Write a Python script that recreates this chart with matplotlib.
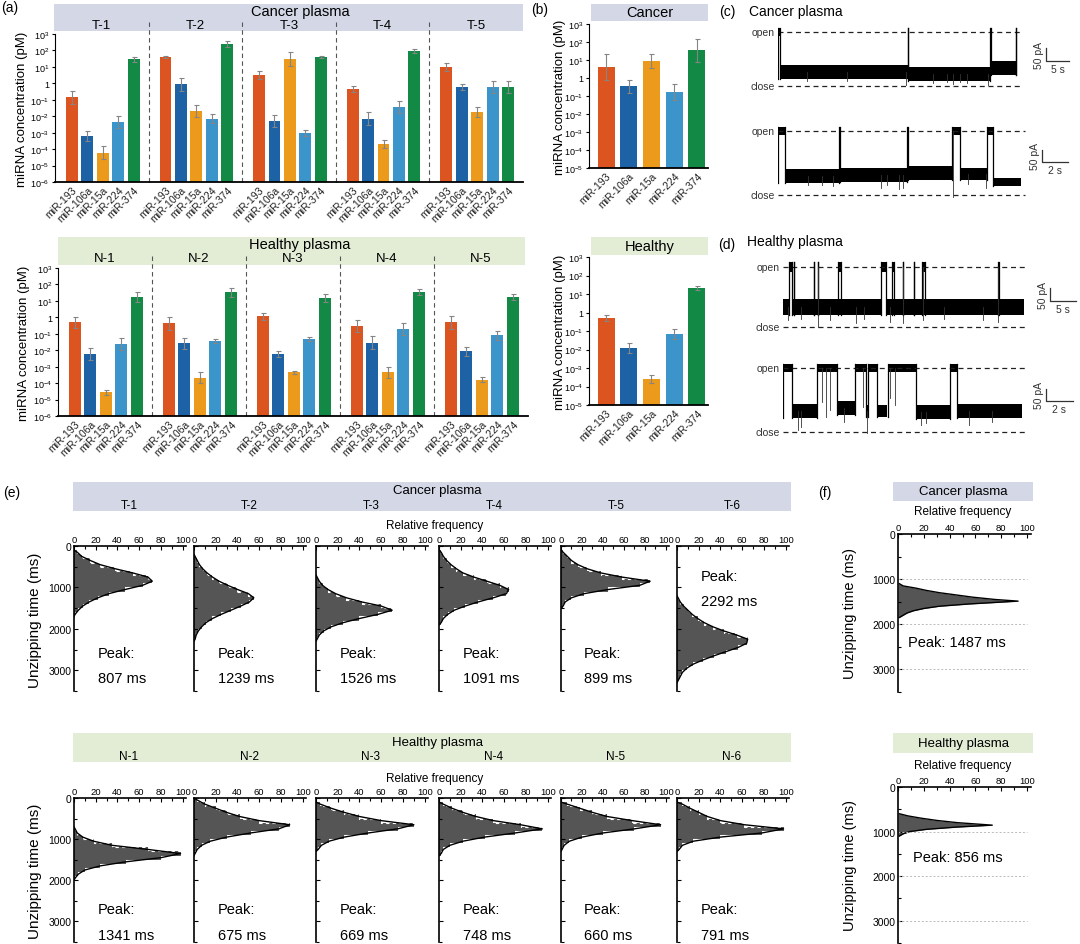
import numpy as np
import matplotlib.pyplot as plt
from matplotlib.patches import Rectangle
from matplotlib.ticker import MultipleLocator

plt.rcParams['font.family'] = ['Liberation Sans', 'DejaVu Sans']
plt.rcParams['mathtext.fontset'] = 'custom'
plt.rcParams['mathtext.rm'] = 'Liberation Sans'
plt.rcParams['mathtext.it'] = 'Liberation Sans:italic'

# ---------------- data ----------------
mirnas = ['miR-193', 'miR-106a', 'miR-15a', 'miR-224', 'miR-374']
bar_colors = ['#DC5520', '#1D62A5', '#EB9A1B', '#3B94CA', '#128A45']

cancer_ids = ['T-1', 'T-2', 'T-3', 'T-4', 'T-5']
cancer_conc = [[0.14, 6.2e-4, 6.2e-5, 4.5e-3, 29],
               [39, 0.87, 0.02, 7.2e-3, 250],
               [3.3, 5.1e-3, 29, 9.5e-4, 40],
               [0.45, 7.2e-3, 2e-4, 0.037, 90],
               [10, 0.6, 0.018, 0.6, 0.6]]
cancer_err = [[0.34, 1.3e-3, 1.5e-4, 0.01, 41],
              [43, 2.2, 0.047, 0.014, 370],
              [5.6, 0.012, 78, 1.5e-3, 44],
              [0.7, 0.018, 3.5e-4, 0.09, 115],
              [18, 0.9, 0.034, 1.4, 1.3]]

healthy_ids = ['N-1', 'N-2', 'N-3', 'N-4', 'N-5']
healthy_conc = [[0.49, 6.1e-3, 2.8e-5, 0.025, 17],
                [0.43, 0.026, 2.1e-4, 0.036, 33],
                [1.15, 6e-3, 4.5e-4, 0.046, 14.5],
                [0.3, 0.029, 4.5e-4, 0.19, 36],
                [0.5, 8.7e-3, 1.6e-4, 0.08, 17]]
healthy_err = [[1.0, 0.014, 4e-5, 0.058, 33],
               [1.1, 0.058, 4.5e-4, 0.045, 63],
               [1.8, 9e-3, 5.5e-4, 0.06, 26],
               [0.7, 0.07, 1e-3, 0.45, 55],
               [1.2, 0.016, 2.3e-4, 0.15, 25]]

pooled_cancer_conc = [4.0, 0.34, 9.0, 0.17, 34]
pooled_cancer_err = [21, 0.74, 22, 0.46, 150]
pooled_healthy_conc = [0.5, 0.012, 2.5e-4, 0.07, 22]
pooled_healthy_err = [0.75, 0.022, 4.3e-4, 0.13, 28]

# current traces: band segments (s), open bursts (s), short dips (s, pA)
c1_open = 210
c1_band_start = [0.4, 28.2, 46.1]
c1_band_end = [28.2, 46.1, 51.9]
c1_band_level = [55, 46, 70]
c1_band_noise = [26, 26, 26]
c1_bursts = [(0, 0.4), (28.2, 28.3), (46.1, 46.2), (51.7, 51.8)]
c1_dip_t = [6.2, 14.9, 27.9, 33.8, 36.7, 38.1, 39.6, 41.0, 45.7]
c1_dip_low = [20, 20, 5, 10, 15, 8, 15, 10, 5]

c2_open = 260
c2_band_start = [0.6, 4.75, 10.0, 14.0, 16.5]
c2_band_end = [4.68, 9.95, 13.4, 16.1, 18.7]
c2_band_level = [77, 80, 89, 85, 53]
c2_band_noise = [28, 28, 28, 26, 16]
c2_bursts = [(0, 0.55), (4.68, 4.75), (9.95, 10.0), (13.4, 14.0), (16.1, 16.5)]
c2_dip_t = [2.3, 3.4, 4.2, 7.9, 8.4, 9.3, 9.6, 13.45, 14.6, 16.0]
c2_dip_low = [40, 40, 35, 30, 40, 25, 30, -10, 45, 30]

d1_open = 230
d1_band_start = [0, 1.7, 19.9]
d1_band_end = [1.2, 18.9, 46.4]
d1_band_level = [77, 77, 77]
d1_band_noise = [32, 32, 32]
d1_bursts = [(1.2, 1.7), (2.1, 2.15), (5.9, 5.95), (6.7, 6.75), (10.6, 11.1), (18.9, 19.9),
             (20.9, 21.3), (23.1, 23.15), (25.1, 25.15), (26.7, 27.3), (41.4, 41.45)]
d1_dip_t = [0.9, 3.5, 6.7, 9.0, 14.0, 15.5, 20.5, 23.1, 27.0, 31.0, 38.5, 41.4]
d1_dip_low = [25, 30, 0, 25, 15, 30, 20, 15, 25, 30, 25, 20]

d2_open = 260
d2_band_start = [0.64, 3.97, 6.15, 6.94, 9.85, 12.86]
d2_band_end = [2.54, 5.33, 6.32, 7.68, 12.37, 17.7]
d2_band_level = [86, 96, 86, 86, 80, 86]
d2_band_noise = [28, 28, 24, 24, 28, 28]
d2_bursts = [(0, 0.64), (2.54, 3.97), (5.33, 6.15), (6.32, 6.94), (7.75, 9.85), (12.37, 12.86)]
d2_dip_t = [1.1, 1.3, 2.9, 3.2, 3.5, 4.5, 5.9, 6.2, 7.9, 8.3, 10.2, 10.6, 13.8, 15.5]
d2_dip_low = [10, 20, 120, 60, 90, 40, 100, -5, 140, 110, 30, 35, 30, 40]

# unzipping time histograms, 100 ms bins (first bin edge, relative frequency)
cancer_hist_start = [100, 200, 700, 100, 100, 1200]
cancer_hist = [[3, 7, 15, 24, 38, 54, 68, 72, 63, 47, 32, 22, 14, 8, 4, 1],
               [1, 3, 5, 8, 12, 17, 23, 31, 40, 50, 55, 51, 43, 34, 25, 17, 11, 7, 4, 2, 1],
               [1, 3, 6, 11, 18, 28, 42, 60, 70, 57, 40, 25, 14, 7, 3, 1],
               [2, 4, 7, 11, 16, 22, 32, 44, 56, 64, 62, 50, 36, 24, 14, 8, 4, 2],
               [2, 6, 10, 16, 25, 38, 58, 85, 75, 45, 22, 10, 4, 2],
               [1, 3, 6, 10, 14, 19, 25, 33, 43, 55, 65, 64, 56, 45, 34, 24, 15, 9, 5, 3, 1]]
cancer_peak = [807, 1239, 1526, 1091, 899, 2292]
cancer_hist_ids = ['T-1', 'T-2', 'T-3', 'T-4', 'T-5', 'T-6']

healthy_hist_start = [700, 0, 100, 100, 100, 100]
healthy_hist = [[1, 3, 8, 18, 35, 68, 98, 80, 48, 24, 10, 4, 1],
                [3, 10, 20, 30, 42, 60, 88, 78, 52, 30, 15, 7, 3, 1],
                [4, 14, 26, 40, 60, 90, 75, 48, 26, 12, 5, 2],
                [4, 12, 22, 34, 50, 75, 95, 70, 42, 22, 10, 4, 2],
                [6, 18, 30, 44, 68, 95, 70, 40, 20, 8, 3, 1],
                [5, 12, 20, 28, 40, 62, 98, 78, 40, 15, 5, 2]]
healthy_peak = [1341, 675, 669, 748, 660, 791]
healthy_hist_ids = ['N-1', 'N-2', 'N-3', 'N-4', 'N-5', 'N-6']

pooled_cancer_t = [1100, 1150, 1200, 1250, 1300, 1350, 1400, 1450, 1487, 1550, 1600, 1650, 1700, 1750, 1800, 1850]
pooled_cancer_f = [1, 4, 14, 22, 32, 45, 58, 75, 93, 55, 32, 20, 12, 7, 4, 1]
pooled_healthy_t = [600, 650, 700, 750, 800, 856, 900, 950, 1000, 1050, 1100]
pooled_healthy_f = [1, 8, 18, 30, 46, 73, 45, 22, 9, 4, 1]

# ---------------- layout helpers ----------------
W, H = 1080, 945
fig = plt.figure(figsize=(W / 100, H / 100), dpi=100)
CANCER_BG = '#D4D8E6'
HEALTHY_BG = '#E3EDD6'


def add_ax(l, t, w, h):
    ax = fig.add_axes([l / W, 1 - (t + h) / H, w / W, h / H])
    ax.patch.set_alpha(0)
    return ax


def ftext(x, y, s, **kw):
    kw.setdefault('ha', 'center')
    kw.setdefault('va', 'center')
    fig.text(x / W, 1 - y / H, s, **kw)


def band(l, t, w, h, color):
    fig.add_artist(Rectangle((l / W, 1 - (t + h) / H), w / W, h / H,
                             transform=fig.transFigure, color=color, lw=0, zorder=-5))


def dec_label(k):
    return '1' if k == 0 else r'$10^{%d}$' % k


def conc_axes(l, t, w, h, ymin, values, tops, off, sp, bw):
    ax = add_ax(l, t, w, h)
    ax.set_yscale('log')
    ax.set_ylim(ymin, 1e3)
    ax.set_xlim(0, len(values))
    xs, labs = [], []
    for g in range(len(values)):
        for i in range(5):
            v, tp = values[g][i], tops[g][i]
            x = g + off + sp * i
            ax.bar(x, v - ymin, bottom=ymin, width=bw, color=bar_colors[i], lw=0)
            ax.errorbar(x, v, yerr=[[v - v * v / tp], [tp - v]], fmt='none',
                        ecolor='#858585', elinewidth=0.8, capsize=1.8, capthick=0.8)
            xs.append(x)
            labs.append(mirnas[i])
    ks = range(int(round(np.log10(ymin))), 4)
    ax.set_yticks([10.0 ** k for k in ks])
    ax.set_yticklabels([dec_label(k) for k in ks], fontsize=6.5)
    ax.yaxis.set_minor_locator(plt.NullLocator())
    ax.set_xticks(xs)
    ax.set_xticklabels(labs, rotation=45, ha='right', va='top',
                       rotation_mode='anchor', fontsize=7.5, color='#222222')
    ax.tick_params(axis='x', length=0, pad=2)
    ax.tick_params(axis='y', length=2.5, width=0.8, pad=1.5)
    for s in ['top', 'right']:
        ax.spines[s].set_visible(False)
    ax.spines['left'].set_linewidth(0.8)
    ax.spines['bottom'].set_linewidth(1.3)
    for g in range(1, len(values)):
        ax.plot([g, g], [ymin, 7e3], ls=(0, (4, 3)), color='#555555', lw=0.8, clip_on=False)
    return ax


# ---------------- panel (a) ----------------
ftext(10, 8, '(a)', fontsize=10)
band(54, 5, 469, 27, CANCER_BG)
ftext(300, 12, 'Cancer plasma', fontsize=10.5)
conc_axes(55, 35, 468, 148, 1e-6, cancer_conc, cancer_err, 0.18, 0.165, 0.127)
for g, lab in enumerate(cancer_ids):
    ftext(55 + 93.6 * (g + 0.5), 26, lab, fontsize=9.5)
ftext(22, 109, 'miRNA concentration (pM)', rotation=90, fontsize=9.5)

band(58, 238, 467, 28, HEALTHY_BG)
ftext(300, 245, 'Healthy plasma', fontsize=10.5)
conc_axes(58, 269, 470, 148, 1e-6, healthy_conc, healthy_err, 0.18, 0.165, 0.127)
for g, lab in enumerate(healthy_ids):
    ftext(58 + 94 * (g + 0.5), 259, lab, fontsize=9.5)
ftext(24, 343, 'miRNA concentration (pM)', rotation=90, fontsize=9.5)

# ---------------- panel (b) ----------------
ftext(540, 10, '(b)', fontsize=10)
band(591, 5, 117, 17, CANCER_BG)
ftext(650, 13, 'Cancer', fontsize=10.5)
conc_axes(589, 25, 119, 144, 1e-5, [pooled_cancer_conc], [pooled_cancer_err], 0.143, 0.191, 0.143)
ftext(560, 97, 'miRNA concentration (pM)', rotation=90, fontsize=9.5)

band(591, 238, 117, 18, HEALTHY_BG)
ftext(650, 247, 'Healthy', fontsize=10.5)
conc_axes(589, 258, 119, 148, 1e-5, [pooled_healthy_conc], [pooled_healthy_err], 0.143, 0.191, 0.143)
ftext(560, 332, 'miRNA concentration (pM)', rotation=90, fontsize=9.5)


# ---------------- panels (c) (d) ----------------
def draw_trace(x0, open_y, close_y, pps, open_level, starts, ends, levels, noises,
               bursts, dip_t, dip_low, dash_end, bar_x, bar_y, bar_s):
    pad = 14
    ax = add_ax(x0, open_y - pad, W - x0, close_y - open_y + 2 * pad)
    ppa = open_level / (close_y - open_y)
    ax.set_xlim(0, (W - x0) / pps)
    ax.set_ylim(-pad * ppa, open_level + pad * ppa)
    ax.axis('off')
    te = (dash_end - x0) / pps
    for lv in [open_level, 0]:
        ax.plot([0, te], [lv, lv], color='#222222', lw=0.9, ls=(0, (4, 3)))
    on = noises[0] * 0.55

    def level_at(t):
        best = None
        for s, e, lv, nz in zip(starts, ends, levels, noises):
            d = 0 if s <= t <= e else min(abs(t - s), abs(t - e))
            if best is None or d < best[0]:
                best = (d, lv, nz)
        return best[1], best[2]

    for s, e, lv, nz in zip(starts, ends, levels, noises):
        ax.fill_between([s, e], [lv - nz] * 2, [lv + nz] * 2, color='black', lw=0)
    for s, e in bursts:
        ax.fill_between([s, e], [open_level - on] * 2, [open_level + on] * 2, color='black', lw=0)
        for tt in (s, e):
            lv, nz = level_at(tt)
            ax.plot([tt, tt], [lv - nz, open_level + on], color='black', lw=0.9)
    for tt, lo in zip(dip_t, dip_low):
        inside = any(s <= tt <= e for s, e in bursts)
        top = open_level if inside else level_at(tt)[0]
        ax.plot([tt, tt], [lo, top], color='#333333', lw=0.6)
    # scale bar
    ts = (bar_x - x0) / pps
    ys = (close_y - bar_y) * ppa
    ax.plot([ts, ts, ts + bar_s], [ys + 50, ys, ys], color='#333333', lw=0.9, clip_on=False)
    ax.text(ts - 0.8 / pps * 3, ys + 25, '50 pA', rotation=90, ha='right', va='center',
            fontsize=7.5, color='#333333')
    ax.text(ts + bar_s / 2, ys - 3 * ppa, '%d s' % bar_s, ha='center', va='top',
            fontsize=7.5, color='#333333')
    ftext(x0 - 3, open_y, 'open', ha='right', fontsize=7.5, color='#333333')
    ftext(x0 - 3, close_y, 'close', ha='right', fontsize=7.5, color='#333333')


ftext(727, 12, '(c)', fontsize=10)
ftext(749, 12, 'Cancer plasma', ha='left', fontsize=10)
draw_trace(778, 33, 87, 4.6, c1_open, c1_band_start, c1_band_end, c1_band_level, c1_band_noise,
           c1_bursts, c1_dip_t, c1_dip_low, 1023, 1046, 62, 5)
draw_trace(778, 132, 196, 13, c2_open, c2_band_start, c2_band_end, c2_band_level, c2_band_noise,
           c2_bursts, c2_dip_t, c2_dip_low, 1025, 1042, 163, 2)

ftext(727, 245, '(d)', fontsize=10)
ftext(747, 242, 'Healthy plasma', ha='left', fontsize=10)
draw_trace(783, 268, 328, 5.2, d1_open, d1_band_start, d1_band_end, d1_band_level, d1_band_noise,
           d1_bursts, d1_dip_t, d1_dip_low, 1026, 1050, 302, 5)
draw_trace(783, 369, 433, 13.5, d2_open, d2_band_start, d2_band_end, d2_band_level, d2_band_noise,
           d2_bursts, d2_dip_t, d2_dip_low, 1026, 1046, 402, 2)


# ---------------- panels (e) (f) ----------------
def style_hist_axes(ax, ylabels):
    ax.set_xlim(0, 103)
    ax.set_ylim(3500, 0)
    ax.xaxis.tick_top()
    ax.set_xticks(range(0, 101, 20))
    ax.xaxis.set_minor_locator(MultipleLocator(10))
    ax.set_yticks([0, 1000, 2000, 3000])
    ax.yaxis.set_minor_locator(MultipleLocator(500))
    ax.tick_params(which='both', direction='in', width=0.8)
    ax.tick_params(which='major', length=3)
    ax.tick_params(which='minor', length=1.8)
    ax.tick_params(axis='x', labelsize=6.8, pad=1.5)
    ax.tick_params(axis='y', labelsize=7.5, pad=2, labelleft=ylabels)
    for s in ['bottom', 'right']:
        ax.spines[s].set_visible(False)
    for s in ['top', 'left']:
        ax.spines[s].set_linewidth(1.2)


def hist_axes(l, t, w, h, start, counts, peak, ylabels, peak_y):
    ax = add_ax(l, t, w, h)
    counts = np.asarray(counts)
    edges = start + 100 * np.arange(len(counts) + 1)
    ax.barh(edges[:-1], counts, height=100, align='edge', color='#555555', lw=0)
    ax.plot(np.repeat(counts, 2), np.repeat(edges, 2)[1:-1], color='white', lw=0.8, ls=(0, (3, 3)))
    centers = edges[:-1] + 50
    ax.plot(np.r_[0, counts, 0], np.r_[edges[0], centers, edges[-1]], color='black', lw=1.0)
    style_hist_axes(ax, ylabels)
    ax.text(22, peak_y[0], 'Peak:', fontsize=10.5, va='center')
    ax.text(22, peak_y[1], '%d ms' % peak, fontsize=10.5, va='center')
    return ax


e_lefts = [74, 194, 316, 439, 561, 677]
e_widths = [112, 112, 112, 112, 108, 112]

ftext(12, 493, '(e)', fontsize=10)
band(73, 483, 718, 29, CANCER_BG)
ftext(437, 491, 'Cancer plasma', fontsize=9.5)
ftext(435, 526, 'Relative frequency', fontsize=8.5)
ftext(35, 620, 'Unzipping time (ms)', rotation=90, fontsize=11)
for k in range(6):
    ftext(e_lefts[k] + 55, 506, cancer_hist_ids[k], fontsize=8.5)
    py = (720, 1330) if k == 5 else (2580, 3180)
    hist_axes(e_lefts[k], 547, e_widths[k], 145, cancer_hist_start[k], cancer_hist[k],
              cancer_peak[k], k == 0, py)

band(73, 734, 718, 29, HEALTHY_BG)
ftext(437, 743, 'Healthy plasma', fontsize=9.5)
ftext(435, 779, 'Relative frequency', fontsize=8.5)
ftext(35, 871, 'Unzipping time (ms)', rotation=90, fontsize=11)
for k in range(6):
    ftext(e_lefts[k] + 55, 757, healthy_hist_ids[k], fontsize=8.5)
    hist_axes(e_lefts[k], 799, e_widths[k], 144, healthy_hist_start[k], healthy_hist[k],
              healthy_peak[k], k == 0, (2700, 3330))


def pooled_axes(t, h, ts, fs, peak, peak_xy):
    ax = add_ax(898, t, 133, h)
    ax.fill_betweenx(ts, 0, fs, color='#555555', lw=0)
    ax.plot(fs, ts, color='black', lw=1.0)
    for yv in [1000, 2000, 3000]:
        ax.plot([0, 100], [yv, yv], color='#BBBBBB', lw=0.7, ls=(0, (2, 2)))
    style_hist_axes(ax, True)
    ax.text(peak_xy[0], peak_xy[1], 'Peak: %d ms' % peak, fontsize=10.5, va='center')


ftext(825, 493, '(f)', fontsize=10)
band(893, 483, 140, 19, CANCER_BG)
ftext(963, 492, 'Cancer plasma', fontsize=9.5)
ftext(963, 512, 'Relative frequency', fontsize=8.5)
ftext(850, 614, 'Unzipping time (ms)', rotation=90, fontsize=10.5)
pooled_axes(535, 158, pooled_cancer_t, pooled_cancer_f, 1487, (8, 2400))

band(893, 734, 140, 20, HEALTHY_BG)
ftext(963, 744, 'Healthy plasma', fontsize=9.5)
ftext(963, 766, 'Relative frequency', fontsize=8.5)
ftext(850, 866, 'Unzipping time (ms)', rotation=90, fontsize=10.5)
pooled_axes(788, 156, pooled_healthy_t, pooled_healthy_f, 856, (12, 1570))

fig.savefig('out.png', dpi=100)
